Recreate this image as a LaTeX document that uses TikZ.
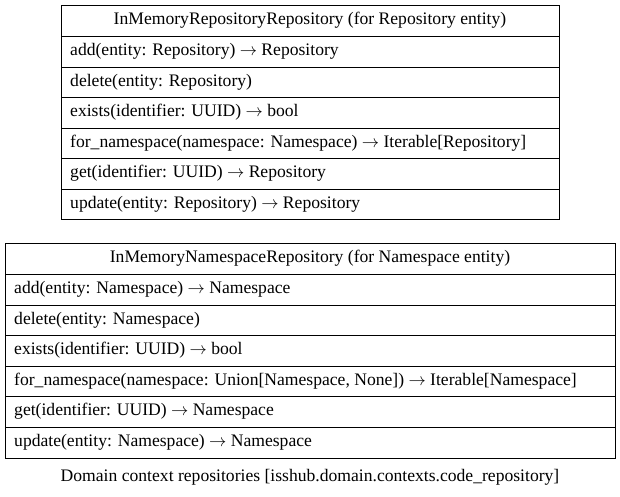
\documentclass[tikz,border=0pt]{standalone}
\usepackage{fontspec}
\setmainfont{Liberation Serif}
\newcommand{\ra}{$\rightarrow$}
\begin{document}
\begin{tikzpicture}[x=1pt,y=-1pt,
  txt/.style={anchor=west,inner sep=0pt,font=\fontsize{17.6}{20}\selectfont}]
\useasboundingbox (0,0) rectangle (620,497);
% top table
\foreach \a/\b in {5/36,36/67,67/97,97/128,128/158,158/189,189/219}{
  \draw[line width=0.9pt] (61,\a) rectangle (559,\b);
}
\node[txt,anchor=center] (t0) at (310,20.5) {InMemoryRepositoryRepository (for Repository entity)};
\node[txt] (t1) at (70,51.5) {add(entity: Repository) \ra{} Repository};
\node[txt] (t2) at (70,82) {delete(entity: Repository)};
\node[txt] (t3) at (70,112.5) {exists(identifier: UUID) \ra{} bool};
\node[txt] (t4) at (70,143) {for\_namespace(namespace: Namespace) \ra{} Iterable[Repository]};
\node[txt] (t5) at (70,173.5) {get(identifier: UUID) \ra{} Repository};
\node[txt] (t6) at (70,204) {update(entity: Repository) \ra{} Repository};
% bottom table
\foreach \a/\b in {243/274,274/305,305/335,335/366,366/396,396/427,427/458}{
  \draw[line width=0.9pt] (5,\a) rectangle (615,\b);
}
\node[txt,anchor=center] (b0) at (310,258.5) {InMemoryNamespaceRepository (for Namespace entity)};
\node[txt] (b1) at (14,289.5) {add(entity: Namespace) \ra{} Namespace};
\node[txt] (b2) at (14,320) {delete(entity: Namespace)};
\node[txt] (b3) at (14,350.5) {exists(identifier: UUID) \ra{} bool};
\node[txt] (b4) at (14,381) {for\_namespace(namespace: Union[Namespace, None]) \ra{} Iterable[Namespace]};
\node[txt] (b5) at (14,411.5) {get(identifier: UUID) \ra{} Namespace};
\node[txt] (b6) at (14,442.5) {update(entity: Namespace) \ra{} Namespace};
\node[txt,anchor=center] (cap) at (310,477) {Domain context repositories [isshub.domain.contexts.code\_repository]};
\end{tikzpicture}
\end{document}
